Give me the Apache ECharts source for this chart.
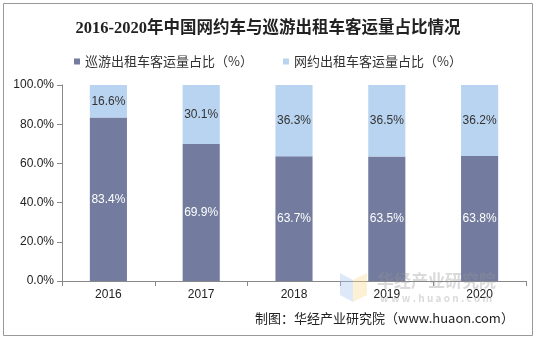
<!DOCTYPE html>
<html><head><meta charset="utf-8">
<script src="https://cdn.jsdelivr.net/npm/echarts@6/dist/echarts.min.js"></script>
<style>html,body{margin:0;padding:0;background:#fff}#c{width:536px;height:339px}</style>
</head><body><div id="c"></div>
<script>
const categories = ['2016','2017','2018','2019','2020'];
const cruiseShare = [83.4, 69.9, 63.7, 63.5, 63.8];
const onlineShare = [16.6, 30.1, 36.3, 36.5, 36.2];
const yTicks = [0, 20, 40, 60, 80, 100];
const seriesNames = ['巡游出租车客运量占比（%）', '网约出租车客运量占比（%）'];

const chart = echarts.init(document.getElementById('c'), null, {renderer:'canvas'});
const font = '"Noto Sans CJK SC", "Liberation Sans", sans-serif';
chart.setOption({
  animation: false,
  title: {
    text: '2016-2020年中国网约车与巡游出租车客运量占比情况',
    left: 'center', top: 15,
    textStyle: {fontSize: 16.5, fontWeight: 'bold', color: '#222', fontFamily: '"Liberation Serif", "Noto Sans CJK SC", serif'}
  },
  legend: {
    top: 50, left: 'center', itemWidth: 6, itemHeight: 6, itemGap: 30,
    icon: 'rect',
    textStyle: {fontSize: 13, color: '#333', fontFamily: font},
    data: seriesNames
  },
  grid: {left: 62, right: 10, top: 85, bottom: 58},
  xAxis: {
    type: 'category', data: categories,
    axisLine: {lineStyle: {color: '#888'}},
    axisTick: {show: true, length: 5, lineStyle: {color: '#888'}},
    axisLabel: {fontSize: 12, color: '#222', margin: 8, fontFamily: '"Liberation Sans", Arial, sans-serif'}
  },
  yAxis: {
    type: 'value', min: 0, max: 100, interval: 20,
    axisLine: {show: true, lineStyle: {color: '#888'}},
    axisTick: {show: true, length: 5, lineStyle: {color: '#888'}},
    splitLine: {show: false},
    axisLabel: {fontSize: 12, color: '#222', margin: 8, fontFamily: '"Liberation Sans", Arial, sans-serif',
      formatter: v => yTicks.includes(v) ? v.toFixed(1) + '%' : ''}
  },
  series: [
    {name: seriesNames[0], type: 'bar', stack: 's', barWidth: '40%', data: cruiseShare,
     itemStyle: {color: '#737c9f'},
     label: {show: true, position: 'inside', color: '#fff', fontSize: 12, fontFamily: '"Liberation Sans", Arial, sans-serif', formatter: p => p.value.toFixed(1) + '%'}},
    {name: seriesNames[1], type: 'bar', stack: 's', barWidth: '40%', data: onlineShare,
     itemStyle: {color: '#b9d4f0'},
     label: {show: true, position: 'inside', color: '#333', fontSize: 12, fontFamily: '"Liberation Sans", Arial, sans-serif', formatter: p => p.value.toFixed(1) + '%'}}
  ],
  graphic: [
    {type: 'rect', shape: {x: 3.5, y: 3.5, width: 529, height: 332}, style: {fill: 'none', stroke: '#999', lineWidth: 1}, silent: true},
    {type: 'text', left: 377, top: 272, style: {text: '华经产业研究院', fontSize: 17, fontWeight: 'bold', fill: 'rgba(150,150,150,0.35)', fontFamily: font}, z: 100},
    {type: 'text', left: 380, top: 293, style: {text: 'w w w . h u a o n . c o m', fontSize: 10, fontWeight: 'bold', fill: 'rgba(150,150,150,0.35)', fontFamily: font}, z: 100},
    {type: 'polygon', shape: {points: [[340,273],[353,280],[353,302],[340,295]]}, style: {fill: 'rgba(170,200,240,0.4)'}, z: 100},
    {type: 'polygon', shape: {points: [[353,280],[367,273],[367,295],[353,302]]}, style: {fill: 'rgba(250,220,150,0.4)'}, z: 100},
    {type: 'text', left: 255, top: 312, style: {text: '制图：华经产业研究院（www.huaon.com）', fontSize: 13, fill: '#222', fontFamily: font}}
  ]
});
</script></body></html>
